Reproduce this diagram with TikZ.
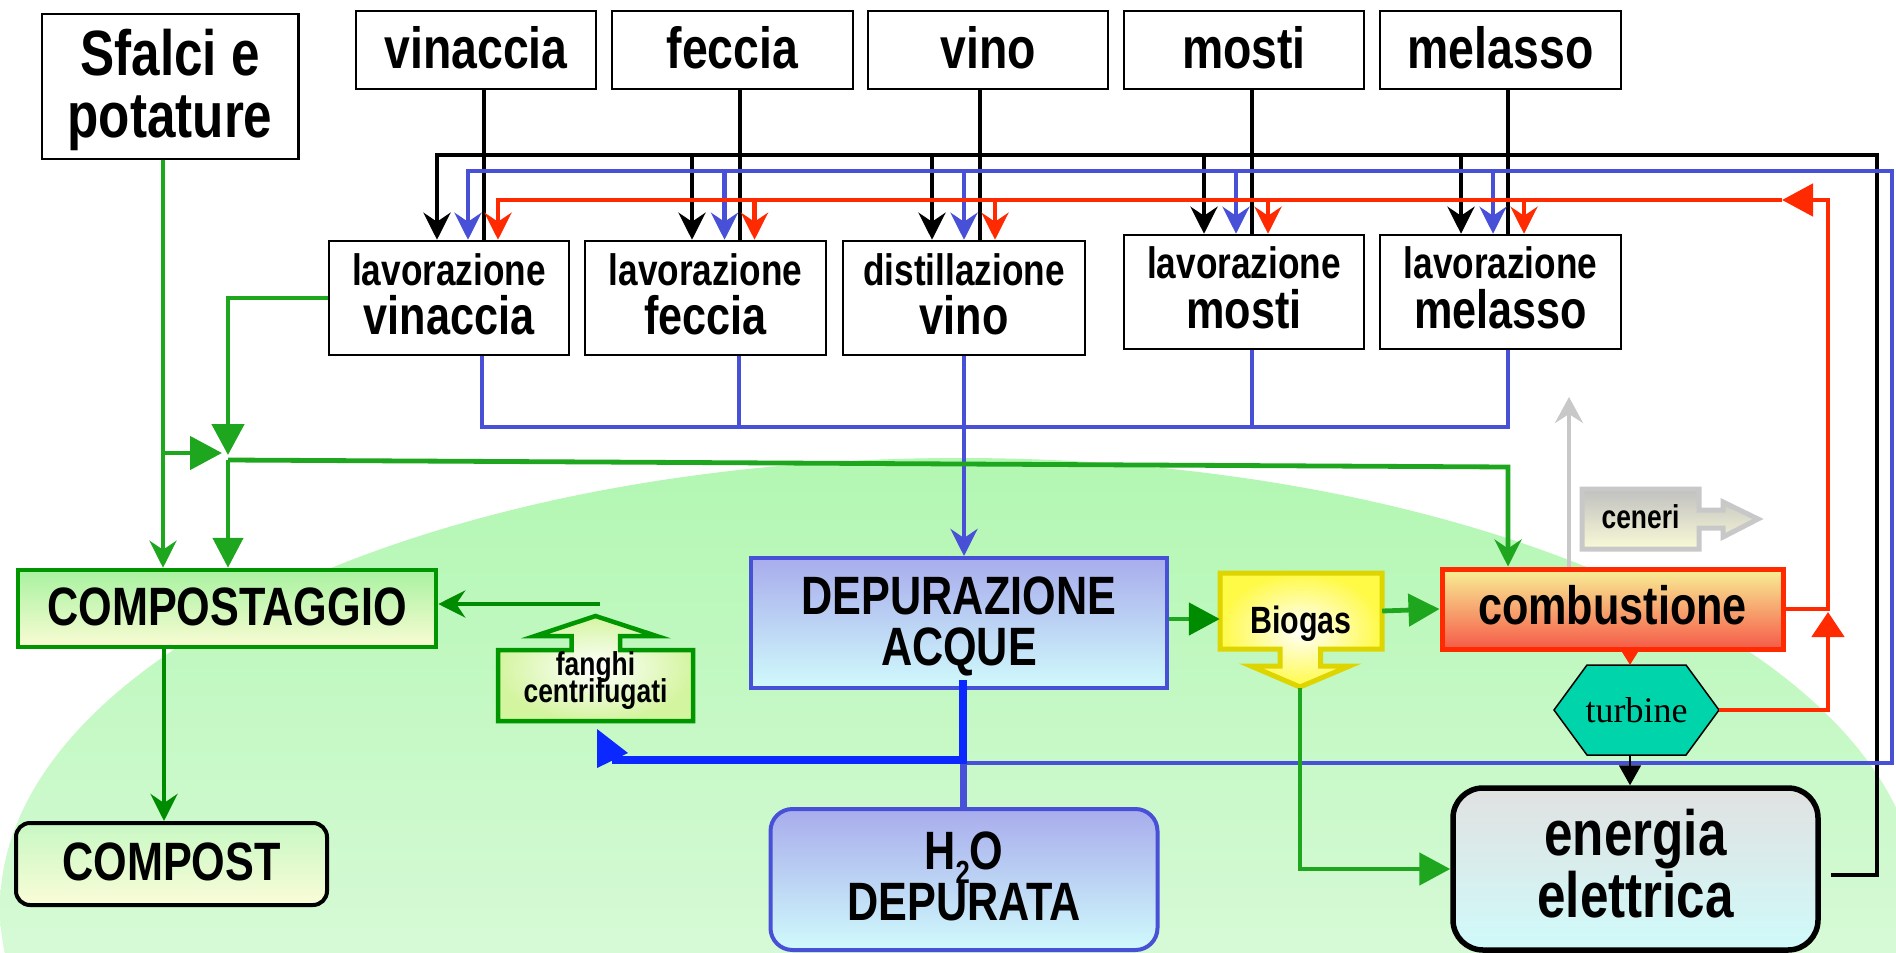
\documentclass[tikz,border=0pt]{standalone}
\usepackage{fontspec}
\setmainfont{Liberation Sans}
\newfontfamily\nf{Liberation Sans}[FakeStretch=0.8]
\newfontfamily\tmsfont{Liberation Serif}
\usetikzlibrary{arrows.meta}
\newcommand\fsz[1]{\fontsize{#1pt}{#1pt}\selectfont}
\definecolor{gline}{RGB}{30,166,30}
\definecolor{dgreen}{RGB}{0,140,0}
\definecolor{cgreen}{RGB}{0,150,0}
\definecolor{bline}{RGB}{72,80,216}
\definecolor{bbright}{RGB}{10,40,255}
\definecolor{rline}{RGB}{255,42,0}
\definecolor{greyc}{RGB}{200,200,200}
\definecolor{bgtop}{RGB}{178,247,178}
\definecolor{bgbot}{RGB}{244,252,244}
\definecolor{c1top}{RGB}{168,242,160}
\definecolor{c1bot}{RGB}{250,252,212}
\definecolor{c2top}{RGB}{200,248,196}
\definecolor{c2bot}{RGB}{250,252,216}
\definecolor{fangc}{RGB}{212,245,160}
\definecolor{dtop}{RGB}{168,172,236}
\definecolor{dbot}{RGB}{208,250,252}
\definecolor{yel}{RGB}{255,250,70}
\definecolor{yelb}{RGB}{222,212,0}
\definecolor{ctop}{RGB}{248,240,150}
\definecolor{cmid}{RGB}{245,175,112}
\definecolor{cbot}{RGB}{245,90,72}
\definecolor{cgtop}{RGB}{192,192,192}
\definecolor{cgbot}{RGB}{250,250,215}
\definecolor{etop}{RGB}{225,225,225}
\definecolor{ebot}{RGB}{208,250,250}
\definecolor{turq}{RGB}{0,212,170}
\begin{document}
\begin{tikzpicture}[x=1pt,y=-1pt,
  lbl/.style={font=\nf\bfseries\fsz{#1}, inner sep=0pt, anchor=base},
  pbox/.style={draw=black, line width=2.5pt, fill=white, inner sep=0pt},
  conn/.style={line width=4.8pt},
  stl/.style={-{Stealth[length=27pt,width=27pt,inset=9pt]}},
  tri/.style={-{Triangle[length=31pt,width=32pt]}},
  hid/.style={inner sep=0pt}
]
\useasboundingbox (0,0) rectangle (1896,953);
\fill[white] (0,0) rectangle (1896,953);
\begin{scope}
\clip (0,0) rectangle (1896,953);
\shade[top color=bgtop, bottom color=bgbot] (960,908) ellipse [x radius=960, y radius=450];
\end{scope}

% ---------- boxes ----------
\node[pbox, minimum width=256.5pt, minimum height=145pt] (sfalci) at (170,86.5) {};
\node[pbox, minimum width=240pt, minimum height=78pt] (vinaccia) at (476,50) {};
\node[pbox, minimum width=241pt, minimum height=78pt] (feccia) at (732.5,50) {};
\node[pbox, minimum width=240pt, minimum height=78pt] (vino) at (988,50) {};
\node[pbox, minimum width=240pt, minimum height=78pt] (mosti) at (1244,50) {};
\node[pbox, minimum width=241pt, minimum height=78pt] (melasso) at (1500.5,50) {};

\node[pbox, minimum width=240pt, minimum height=114pt] (lavvin) at (449,298) {};
\node[pbox, minimum width=241pt, minimum height=114pt] (lavfec) at (705.5,298) {};
\node[pbox, minimum width=242pt, minimum height=114pt] (distvino) at (964,298) {};
\node[pbox, minimum width=240pt, minimum height=114pt] (lavmos) at (1244,292) {};
\node[pbox, minimum width=241pt, minimum height=114pt] (lavmel) at (1500.5,292) {};

\node[draw=cgreen, line width=4.5pt, top color=c1top, bottom color=c1bot, minimum width=418pt, minimum height=77pt, inner sep=0pt] (compostag) at (227,608.5) {};
\node[draw=black, line width=4pt, rounded corners=14pt, top color=c2top, bottom color=c2bot, minimum width=311pt, minimum height=82pt, inner sep=0pt] (compost) at (171.5,864) {};
\node[draw=bline, line width=4pt, top color=dtop, bottom color=dbot, minimum width=415.5pt, minimum height=130pt, inner sep=0pt] (depur) at (958.75,623) {};
\node[draw=bline, line width=4pt, rounded corners=22pt, top color=dtop, bottom color=dbot, minimum width=387pt, minimum height=141pt, inner sep=0pt] (h2o) at (964,879.5) {};
\node[draw=rline, line width=5pt, top color=ctop, middle color=cmid, bottom color=cbot, minimum width=341pt, minimum height=80pt, inner sep=0pt] (combust) at (1612.5,609) {};
\node[draw=black, line width=5.5pt, rounded corners=30pt, top color=etop, bottom color=ebot, minimum width=365pt, minimum height=162pt, inner sep=0pt] (energia) at (1635.5,869) {};

% shapes with attached block arrows
\shadedraw[inner color=white, outer color=fangc, draw=cgreen, line width=4.5pt]
  (498,721) -- (498,650) -- (571.6,650) -- (571.6,636) -- (535,636) -- (595.5,616)
  -- (656.6,636) -- (620,636) -- (620,650) -- (693,650) -- (693,721) -- cycle;
\node[hid, minimum width=195pt, minimum height=71pt] (fanghi) at (595.5,685.5) {};

\shadedraw[inner color=white, outer color=yel, draw=yelb, line width=5pt]
  (1220,573) -- (1382,573) -- (1382,649) -- (1320.5,649) -- (1320.5,666) -- (1349.5,666)
  -- (1300,687) -- (1251,666) -- (1280,666) -- (1280,649) -- (1220,649) -- cycle;
\node[hid, minimum width=162pt, minimum height=76pt] (biogas) at (1301,611) {};

\shadedraw[top color=cgtop, bottom color=cgbot, draw=greyc, line width=5pt]
  (1582,489) -- (1699,489) -- (1699,510) -- (1723,510) -- (1723,502) -- (1758,519)
  -- (1723,537) -- (1723,528) -- (1699,528) -- (1699,549) -- (1582,549) -- cycle;
\node[hid, minimum width=117pt, minimum height=60pt] (ceneri) at (1640.5,519) {};

\filldraw[fill=turq, draw=black, line width=1.5pt]
  (1554,710) -- (1587,665) -- (1686,665) -- (1719,710) -- (1686,755) -- (1587,755) -- cycle;
\node[hid, minimum width=165pt, minimum height=90pt] (turbine) at (1636.5,710) {};

% ---------- connectors ----------
% black: inputs
\coordinate (vv1) at ([xshift=8pt]vinaccia.south);
\coordinate (vv2) at ([xshift=7.5pt]feccia.south);
\coordinate (vv3) at ([xshift=-8pt]vino.south);
\coordinate (vv4) at ([xshift=8pt]mosti.south);
\coordinate (vv5) at ([xshift=7.5pt]melasso.south);
\draw[conn] (vv1) -- (vv1 |- lavvin.north);
\draw[conn] (vv2) -- (vv2 |- lavfec.north);
\draw[conn] (vv3) -- (vv3 |- distvino.north);
\draw[conn] (vv4) -- (vv4 |- lavmos.north);
\draw[conn] (vv5) -- (vv5 |- lavmel.north);

% black: electric energy bus
\coordinate (xk1) at (437,155);
\coordinate (xk2) at (692,155);
\coordinate (xk3) at (932,155);
\coordinate (xk4) at (1204,155);
\coordinate (xk5) at (1461,155);
\coordinate (kR) at (1877,155);
\coordinate (kE) at (1877,875);
\coordinate (eS) at ([xshift=10pt,yshift=-6pt]energia.east);
\draw[conn, stl] (eS) -- (kE) -- (kR) -- (xk1) -- (xk1 |- lavvin.north);
\draw[conn, stl] (xk2) -- (xk2 |- lavfec.north);
\draw[conn, stl] (xk3) -- (xk3 |- distvino.north);
\draw[conn, stl] (xk4) -- (xk4 |- lavmos.north);
\draw[conn, stl] (xk5) -- (xk5 |- lavmel.north);

% blue: water bus
\coordinate (xb1) at (468,171);
\coordinate (xb2) at (724.5,171);
\coordinate (xb3) at (964,171);
\coordinate (xb4) at (1236,171);
\coordinate (xb5) at (1493,171);
\coordinate (bR) at (1892,171);
\coordinate (bB) at (1892,763);
\coordinate (bJ) at (963,763);
\draw[conn, bline, stl] (bJ) -- (bB) -- (bR) -- (xb1) -- (xb1 |- lavvin.north);
\draw[conn, bline, stl] (xb2) -- (xb2 |- lavfec.north);
\draw[conn, bline, stl] (xb3) -- (xb3 |- distvino.north);
\draw[conn, bline, stl] (xb4) -- (xb4 |- lavmos.north);
\draw[conn, bline, stl] (xb5) -- (xb5 |- lavmel.north);

% red: heat bus
\coordinate (rC) at (1828,609);
\coordinate (rT) at (1828,200);
\coordinate (rA) at (1782,200);
\coordinate (xr1) at (498,200);
\coordinate (xr2) at (754.5,200);
\coordinate (xr3) at (995,200);
\coordinate (xr4) at (1268,200);
\coordinate (xr5) at (1524,200);
\draw[conn, rline, tri] (combust.east) -- (rC) -- (rT) -- (rA);
\draw[conn, rline, stl] (rA) -- (xr1) -- (xr1 |- lavvin.north);
\draw[conn, rline, stl] (xr2) -- (xr2 |- lavfec.north);
\draw[conn, rline, stl] (xr3) -- (xr3 |- distvino.north);
\draw[conn, rline, stl] (xr4) -- (xr4 |- lavmos.north);
\draw[conn, rline, stl] (xr5) -- (xr5 |- lavmel.north);
\coordinate (rU) at (1828,710);
\coordinate (rUt) at (1828,612);
\draw[conn, rline, -{Triangle[length=25pt,width=32pt]}] (turbine.east) -- (rU) -- (rUt);
\coordinate (xt) at (1630,0);
\draw[rline, line width=1pt, -{Triangle[length=13pt,width=16pt]}] (combust.south -| xt) -- (turbine.north -| xt);
\draw[line width=2pt, -{Triangle[length=20pt,width=22pt]}] (turbine.south -| xt) -- (energia.north -| xt);

% grey: ashes
\coordinate (xg) at (1569,397);
\draw[conn, greyc, -{Stealth[length=26pt,width=28pt,inset=9pt]}] (combust.north -| xg) -- (xg);

% blue: collectors from processes
\coordinate (cb1) at (482,427);
\coordinate (cb2) at (739,427);
\coordinate (cb4) at (1252,427);
\coordinate (cb5) at (1508,427);
\draw[conn, bline] (lavvin.south -| cb1) -- (cb1) -- (cb5) -- (lavmel.south -| cb5);
\draw[conn, bline] (lavfec.south -| cb2) -- (cb2);
\draw[conn, bline] (lavmos.south -| cb4) -- (cb4);
\draw[conn, bline, stl] (distvino.south) -- (distvino.south |- depur.north);

% blue: out of water treatment
\coordinate (dS) at (963,680);
\coordinate (dB) at (963,760);
\coordinate (fL) at (612,760);
\draw[line width=7pt, bline] (dB) -- (h2o.north -| dB);
\draw[line width=8pt, bbright] (dS) -- (dB) -- (fL);
\fill[bbright] (597,729) -- (628,753) -- (597,768) -- cycle;

% green
\coordinate (xs) at (163,453);
\coordinate (gA) at (222,453);
\draw[conn, gline, stl] (sfalci.south -| xs) -- (compostag.north -| xs);
\draw[conn, gline, -{Triangle[length=32pt,width=33pt]}] (xs) -- (gA);
\coordinate (gL) at (228,298);
\coordinate (gD) at (228,455);
\draw[conn, gline, tri] (lavvin.west) -- (gL) -- (gD);
\coordinate (gJ) at (228,460);
\coordinate (gR) at (1508,467);
\draw[conn, gline, -{Triangle[length=30pt,width=30pt]}] (gJ) -- (compostag.north -| gJ);
\draw[conn, gline, stl] (gJ) -- (gR) -- (combust.north -| gR);
\coordinate (dE) at ([yshift=4pt]depur.east);
\draw[conn, gline, -{Triangle[length=31pt,width=32pt,color=dgreen]}] (dE) -- (dE -| biogas.west);
\draw[conn, gline, tri] (biogas.east) -- (combust.west);
\coordinate (bgT) at (1300,688);
\coordinate (bgC) at (1300,869);
\draw[conn, gline, tri] (bgT) -- (bgC) -- (energia.west);
\coordinate (fT) at (600,604);
\draw[conn, dgreen, stl] (fT) -- (fT -| compostag.east);
\coordinate (xc) at (164,0);
\draw[conn, dgreen, stl] (compostag.south -| xc) -- (compost.north -| xc);

% ---------- texts ----------
\node[lbl=64] (sfalci-a) at (170,75) {Sfalci e};
\node[lbl=64] (sfalci-b) at (170,137) {potature};
\node[lbl=58] (vinaccia-l) at (476,68) {vinaccia};
\node[lbl=58] (feccia-l) at (732.5,68) {feccia};
\node[lbl=58] (vino-l) at (988,68) {vino};
\node[lbl=58] (mosti-l) at (1244,68) {mosti};
\node[lbl=58] (melasso-l) at (1500.5,68) {melasso};

\node[lbl=44] (lavvin-a) at (449,285) {lavorazione};
\node[lbl=54] (lavvin-b) at (449,334) {vinaccia};
\node[lbl=44] (lavfec-a) at (705.5,285) {lavorazione};
\node[lbl=54] (lavfec-b) at (705.5,334) {feccia};
\node[lbl=44] (distvino-a) at (964,285) {distillazione};
\node[lbl=54] (distvino-b) at (964,334) {vino};
\node[lbl=44] (lavmos-a) at (1244,278) {lavorazione};
\node[lbl=54] (lavmos-b) at (1244,328) {mosti};
\node[lbl=44] (lavmel-a) at (1500.5,278) {lavorazione};
\node[lbl=54] (lavmel-b) at (1500.5,328) {melasso};

\node[lbl=54] (compostag-l) at (227,625) {COMPOSTAGGIO};
\node[lbl=54] (compost-l) at (171.5,880) {COMPOST};
\node[font={\nf\bfseries\fontsize{33pt}{27pt}\selectfont\lineskiplimit=-100pt}, inner sep=0pt, align=center, anchor=center] (fanghi-l) at (595.5,681) {fanghi\\centrifugati};
\node[lbl=54] (depur-a) at (959,614) {DEPURAZIONE};
\node[lbl=54] (depur-b) at (959,665) {ACQUE};
\node[font={\nf\bfseries\fontsize{54pt}{51pt}\selectfont\lineskiplimit=-100pt}, inner sep=0pt, align=center, anchor=center] (h2o-l) at (964,876) {H\raisebox{-14pt}{\fsz{32}2}O\\DEPURATA};
\node[lbl=38] (biogas-l) at (1301,633) {Biogas};
\node[lbl=54] (combust-l) at (1612.5,624) {combustione};
\node[lbl=33] (ceneri-l) at (1640.5,528) {ceneri};
\node[font=\tmsfont\fsz{36}, inner sep=0pt, anchor=base] (turbine-l) at (1636.5,722) {turbine};
\node[lbl=64] (energia-a) at (1635.5,855) {energia};
\node[lbl=64] (energia-b) at (1635.5,917) {elettrica};
\end{tikzpicture}
\end{document}
